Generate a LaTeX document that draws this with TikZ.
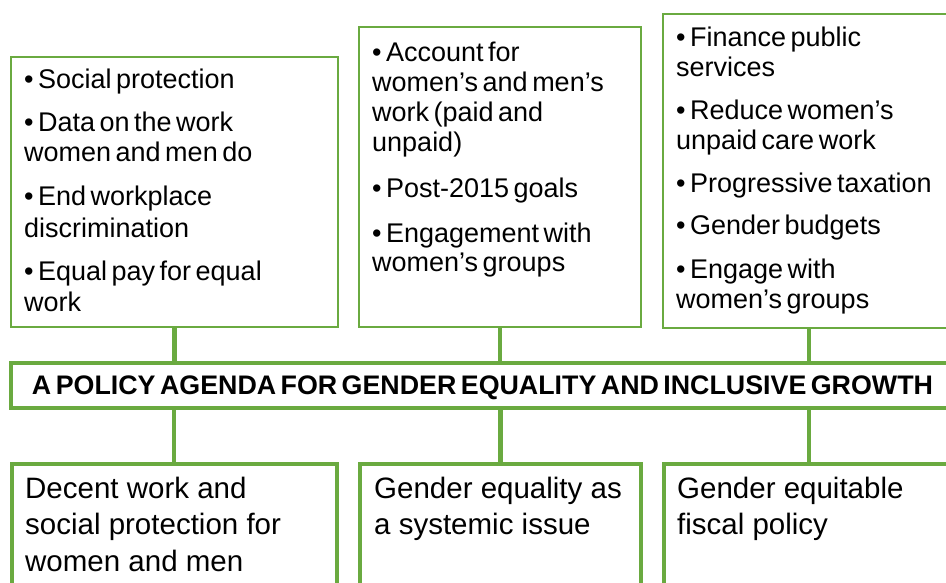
\documentclass[tikz,border=0pt]{standalone}
\usepackage{fontspec}
\setmainfont{Liberation Sans}[WordSpace=0.6]
\newfontfamily\botfont{Liberation Sans}
\definecolor{grn}{RGB}{106,170,64}
\tikzset{
  thinbox/.style={draw=grn, line width=1.6pt, fill=white, inner sep=0pt, outer sep=0pt},
  thickbox/.style={draw=grn, line width=4pt, fill=white, inner sep=0pt, outer sep=0pt},
  conn/.style={draw=grn, line width=4.5pt},
  ln/.style={anchor=base west, inner sep=0pt, font=\fontsize{27}{30}\selectfont},
  bl/.style={anchor=base west, inner sep=0pt, font=\botfont\fontsize{29.5}{36}\selectfont},
}
\begin{document}
\begin{tikzpicture}[x=1pt,y=-1pt]
\clip (0,0) rectangle (946,583);
\fill[white] (0,0) rectangle (946,583);
% top boxes
\node[thinbox, minimum width=327pt, minimum height=270pt] (top1) at (174.5,192) {};
\node[thinbox, minimum width=282pt, minimum height=300pt] (top2) at (500,177) {};
\node[thinbox, minimum width=292pt, minimum height=314pt] (top3) at (809,171) {};
% title bar
\node[thickbox, minimum width=949pt, minimum height=45pt] (bar) at (485.5,385) {};
\node[inner sep=0pt, anchor=base] (title) at (482.5,394)
  {\resizebox{901pt}{!}{\bfseries\fontsize{25}{30}\selectfont A POLICY AGENDA FOR GENDER EQUALITY AND INCLUSIVE GROWTH}};
% bottom boxes
\node[thickbox, minimum width=325pt, minimum height=177pt] (bot1) at (174,552.5) {};
\node[thickbox, minimum width=281pt, minimum height=177pt] (bot2) at (500.5,552.5) {};
\node[thickbox, minimum width=290pt, minimum height=177pt] (bot3) at (809,552.5) {};
% connectors
\draw[conn] (top1.south) -- (top1.south |- bar.north);
\draw[conn] (top2.south) -- (top2.south |- bar.north);
\draw[conn] (top3.south) -- (top3.south |- bar.north);
\draw[conn] (bot1.north) -- (bot1.north |- bar.south);
\draw[conn] (bot2.north) -- (bot2.north |- bar.south);
\draw[conn] (bot3.north) -- (bot3.north |- bar.south);
% redraw bar border over connectors
\node[thickbox, fill=none, minimum width=949pt, minimum height=45pt] (barb) at (485.5,385) {};
% top box 1 text
\node[ln] (a1) at (24,89) {• Social protection};
\node[ln] (a2) at (24,132) {• Data on the work};
\node[ln] (a3) at (24,162) {women and men do};
\node[ln] (a4) at (24,206) {• End workplace};
\node[ln] (a5) at (24,237) {discrimination};
\node[ln] (a6) at (24,280) {• Equal pay for equal};
\node[ln] (a7) at (24,311) {work};
% top box 2 text
\node[ln] (b1) at (372,62) {• Account for};
\node[ln] (b2) at (372,92) {women’s and men’s};
\node[ln] (b3) at (372,122) {work (paid and};
\node[ln] (b4) at (372,152) {unpaid)};
\node[ln] (b5) at (372,198) {• Post-2015 goals};
\node[ln] (b6) at (372,242) {• Engagement with};
\node[ln] (b7) at (372,272) {women’s groups};
% top box 3 text
\node[ln] (c1) at (676,47) {• Finance public};
\node[ln] (c2) at (676,77) {services};
\node[ln] (c3) at (676,120) {• Reduce women’s};
\node[ln] (c4) at (676,150) {unpaid care work};
\node[ln] (c5) at (676,193) {• Progressive taxation};
\node[ln] (c6) at (676,235) {• Gender budgets};
\node[ln] (c7) at (676,278) {• Engage with};
\node[ln] (c8) at (676,308) {women’s groups};
% bottom texts
\node[bl] (d1) at (25,498) {Decent work and};
\node[bl] (d2) at (25,534) {social protection for};
\node[bl] (d3) at (25,571) {women and men};
\node[bl] (e1) at (374,498) {Gender equality as};
\node[bl] (e2) at (374,534) {a systemic issue};
\node[bl] (f1) at (677,498) {Gender equitable};
\node[bl] (f2) at (677,534) {fiscal policy};
\end{tikzpicture}
\end{document}
